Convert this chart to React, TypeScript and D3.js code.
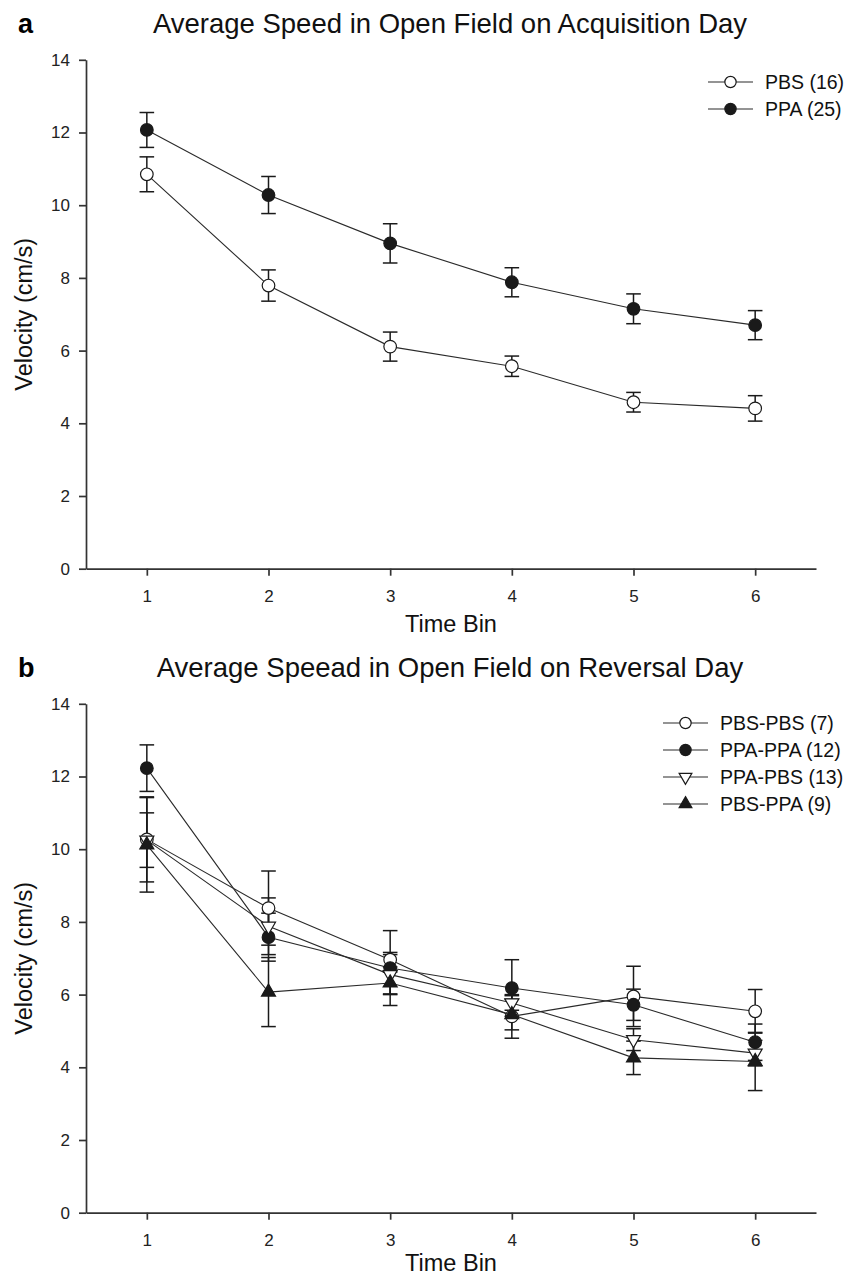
import React, { useEffect, useRef } from "react";
import * as d3 from "d3";

const timeBins = [1, 2, 3, 4, 5, 6];
const yTicks = [0, 2, 4, 6, 8, 10, 12, 14];

// panel a - acquisition day
const pbsMean = [10.85, 7.79, 6.11, 5.57, 4.58, 4.41];
const pbsErr = [0.48, 0.43, 0.4, 0.28, 0.27, 0.35];
const ppaMean = [12.07, 10.28, 8.95, 7.88, 7.15, 6.7];
const ppaErr = [0.48, 0.51, 0.54, 0.4, 0.41, 0.4];

// panel b - reversal day
const pbsPbsMean = [10.27, 8.38, 6.96, 5.4, 5.95, 5.54];
const pbsPbsErr = [1.17, 1.02, 0.2, 0.6, 0.83, 0.6];
const ppaPpaMean = [12.23, 7.58, 6.73, 6.18, 5.72, 4.69];
const ppaPpaErr = [0.64, 0.66, 1.03, 0.78, 0.43, 0.5];
const ppaPbsMean = [10.25, 7.88, 6.55, 5.77, 4.76, 4.39];
const ppaPbsErr = [0.75, 0.78, 0.55, 0.2, 0.3, 0.35];
const pbsPpaMean = [10.12, 6.07, 6.32, 5.45, 4.26, 4.16];
const pbsPpaErr = [1.3, 0.95, 0.3, 0.42, 0.46, 0.8];

type Marker = "circle" | "triUp" | "triDown";
interface Series {
  label: string;
  mean: number[];
  err: number[];
  marker: Marker;
  filled: boolean;
}

const seriesA: Series[] = [
  { label: "PBS (16)", mean: pbsMean, err: pbsErr, marker: "circle", filled: false },
  { label: "PPA (25)", mean: ppaMean, err: ppaErr, marker: "circle", filled: true },
];
const seriesB: Series[] = [
  { label: "PBS-PBS (7)", mean: pbsPbsMean, err: pbsPbsErr, marker: "circle", filled: false },
  { label: "PPA-PPA (12)", mean: ppaPpaMean, err: ppaPpaErr, marker: "circle", filled: true },
  { label: "PPA-PBS (13)", mean: ppaPbsMean, err: ppaPbsErr, marker: "triDown", filled: false },
  { label: "PBS-PPA (9)", mean: pbsPpaMean, err: pbsPpaErr, marker: "triUp", filled: true },
];

const FONT = "'Liberation Sans', Arial, Helvetica, sans-serif";
const INK = "#1a1a1a";

const left = 86, right = 816;
const plotTop = 59.8, plotBottom = 568.7;

const x = d3.scaleLinear().domain([0.5, 6.5]).range([left, right]);
const y = d3.scaleLinear().domain([0, 14]).range([plotBottom, plotTop]);

function symbolPath(m: Marker, big: boolean) {
  if (m === "circle") return d3.symbol(d3.symbolCircle, big ? 125 : 100)() as string;
  return d3.symbol(d3.symbolTriangle, big ? 85 : 70)() as string;
}

function MarkerShape({ m, filled, cx, cy, big }: { m: Marker; filled: boolean; cx: number; cy: number; big: boolean }) {
  const rot = m === "triDown" ? " rotate(180)" : "";
  return (
    <path
      d={symbolPath(m, big)}
      transform={`translate(${cx},${cy})${rot}`}
      fill={filled ? INK : "#fff"}
      stroke={INK}
      strokeWidth={1.2}
    />
  );
}

function Panel(props: {
  offsetY: number;
  letter: string;
  title: string;
  series: Series[];
  legendX: number;
  legendY: number;
  xLabelY: number;
}) {
  const { offsetY, letter, title, series, legendX, legendY, xLabelY } = props;
  const xAxisRef = useRef<SVGGElement>(null);
  const yAxisRef = useRef<SVGGElement>(null);

  useEffect(() => {
    const xa = d3.select(xAxisRef.current!);
    xa.call(
      d3.axisBottom(x).tickValues(timeBins).tickSize(7).tickPadding(14).tickSizeOuter(0).tickFormat(d3.format("d"))
    );
    const ya = d3.select(yAxisRef.current!);
    ya.call(d3.axisLeft(y).tickValues(yTicks).tickSize(7).tickPadding(9).tickSizeOuter(0));
    [xa, ya].forEach((g) => {
      g.attr("font-family", FONT).attr("font-size", 17);
      g.selectAll("path, line").attr("stroke", "#333").attr("stroke-width", 1.7);
      g.selectAll("text").attr("fill", "#222");
    });
  }, []);

  const line = d3
    .line<number>()
    .x((_, i) => x(timeBins[i]))
    .y((d) => y(d));

  return (
    <g transform={`translate(0,${offsetY})`}>
      <text x={18} y={33} fontFamily={FONT} fontWeight="bold" fontSize={27} fill="#000">
        {letter}
      </text>
      <text x={450} y={33} textAnchor="middle" fontFamily={FONT} fontSize={27.5} fill="#111">
        {title}
      </text>

      <g ref={xAxisRef} transform={`translate(0,${plotBottom})`} />
      <g ref={yAxisRef} transform={`translate(${left},0)`} />

      <text x={(left + right) / 2} y={xLabelY} textAnchor="middle" fontFamily={FONT} fontSize={23.5} fill="#111">
        Time Bin
      </text>
      <text
        transform={`translate(32,${(plotTop + plotBottom) / 2}) rotate(-90)`}
        textAnchor="middle"
        fontFamily={FONT}
        fontSize={23.5}
        fill="#111"
      >
        Velocity (cm/s)
      </text>

      {series.map((s) => (
        <path key={"l" + s.label} d={line(s.mean) as string} fill="none" stroke="#2a2a2a" strokeWidth={1.1} />
      ))}
      {series.map((s) =>
        s.mean.map((m, i) => {
          const cx = x(timeBins[i]);
          const y1 = y(m + s.err[i]);
          const y2 = y(m - s.err[i]);
          return (
            <g key={"e" + s.label + i} stroke={INK} strokeWidth={1.5}>
              <line x1={cx} x2={cx} y1={y1} y2={y2} />
              <line x1={cx - 7.3} x2={cx + 7.3} y1={y1} y2={y1} />
              <line x1={cx - 7.3} x2={cx + 7.3} y1={y2} y2={y2} />
            </g>
          );
        })
      )}
      {series.map((s) =>
        s.mean.map((m, i) => (
          <MarkerShape key={"m" + s.label + i} m={s.marker} filled={s.filled} cx={x(timeBins[i])} cy={y(m)} big />
        ))
      )}

      {series.map((s, i) => {
        const ly = legendY + i * 27;
        return (
          <g key={"lg" + s.label}>
            <line x1={legendX} x2={legendX + 45} y1={ly} y2={ly} stroke="#2a2a2a" strokeWidth={1.2} />
            <MarkerShape m={s.marker} filled={s.filled} cx={legendX + 22.5} cy={ly} big={false} />
            <text x={legendX + 57} y={ly} dy="0.35em" fontFamily={FONT} fontSize={19.5} fill="#111">
              {s.label}
            </text>
          </g>
        );
      })}
    </g>
  );
}

export default function App() {
  return (
    <svg
      width={860}
      height={1277}
      style={{ position: "absolute", left: 0, top: 0, background: "#fff" }}
    >
      <rect width={860} height={1277} fill="#fff" />
      <Panel
        offsetY={0}
        letter="a"
        title="Average Speed in Open Field on Acquisition Day"
        series={seriesA}
        legendX={708}
        legendY={82}
        xLabelY={632}
      />
      <Panel
        offsetY={644}
        letter="b"
        title="Average Speead in Open Field on Reversal Day"
        series={seriesB}
        legendX={663}
        legendY={79}
        xLabelY={627}
      />
    </svg>
  );
}
